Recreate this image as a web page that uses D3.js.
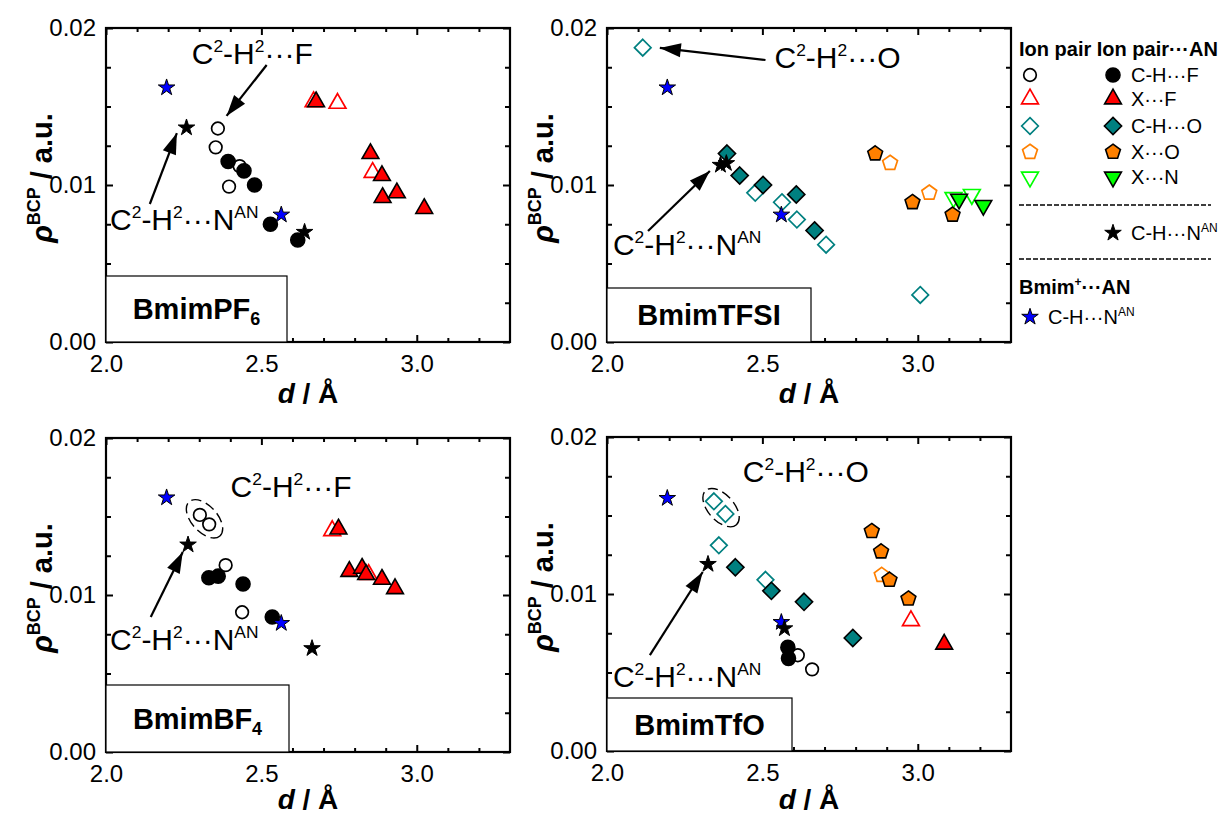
<!DOCTYPE html>
<html><head><meta charset="utf-8">
<script src="https://cdn.jsdelivr.net/npm/d3@7"></script>
<style>
body{margin:0;background:#fff;}
svg{display:block;}
text{font-family:"Liberation Sans",Arial,Helvetica,sans-serif;fill:#000;}
</style>
</head><body>
<svg id="chart" width="1227" height="816"></svg>
<script>
// ---------------- DATA ----------------
const xDomain = [2.0, 3.3];
const yDomain = [0.0, 0.02];
const xTickLabels = [2.0, 2.5, 3.0];
const yTickLabels = [0.00, 0.01, 0.02];
const xMinorTicks = [2.1, 2.2, 2.3, 2.4, 2.6, 2.7, 2.8, 2.9, 3.1, 3.2];
const yMinorTicks = [0.0025, 0.005, 0.0075, 0.0125, 0.015, 0.0175];

// BmimPF6
const pf6_ionCHF   = [[2.360,0.0136],[2.353,0.0124],[2.430,0.0112],[2.396,0.0099]];
const pf6_pairCHF  = [[2.393,0.0115],[2.444,0.0109],[2.478,0.0100],[2.529,0.0075],[2.617,0.0065]];
const pf6_ionXF    = [[2.668,0.0153],[2.745,0.0152],[2.858,0.0108]];
const pf6_pairXF   = [[2.676,0.0153],[2.851,0.0120],[2.888,0.0106],[2.890,0.0092],[2.936,0.0095],[3.024,0.0085]];
const pf6_pairCHN  = [[2.259,0.01365],[2.639,0.0070]];
const pf6_bmimCHN  = [[2.195,0.0162],[2.564,0.0081]];

// BmimTFSI
const tfsi_ionCHO  = [[2.115,0.01875],[2.477,0.0095],[2.563,0.0089],[2.611,0.0078],[2.705,0.0062],[3.008,0.0030]];
const tfsi_pairCHO = [[2.386,0.0120],[2.427,0.0106],[2.502,0.0100],[2.609,0.0094],[2.668,0.0071]];
const tfsi_ionXO   = [[2.911,0.0114],[3.037,0.0095]];
const tfsi_pairXO  = [[2.863,0.0120],[2.983,0.0089],[3.112,0.0081]];
const tfsi_ionXN   = [[3.115,0.0092],[3.174,0.0094]];
const tfsi_pairXN  = [[3.133,0.0091],[3.211,0.0087]];
const tfsi_pairCHN = [[2.365,0.01127],[2.384,0.01138]];
const tfsi_bmimCHN = [[2.194,0.0162],[2.561,0.0081]];

// BmimBF4
const bf4_ionCHF   = [[2.302,0.0151],[2.332,0.0145],[2.385,0.0119],[2.438,0.0089]];
const bf4_pairCHF  = [[2.331,0.0111],[2.361,0.0112],[2.441,0.0107],[2.535,0.0086]];
const bf4_ionXF    = [[2.728,0.0141],[2.845,0.0113]];
const bf4_pairXF   = [[2.748,0.0142],[2.783,0.0115],[2.824,0.0117],[2.837,0.0113],[2.888,0.0110],[2.930,0.0104]];
const bf4_pairCHN  = [[2.264,0.0132],[2.663,0.0066]];
const bf4_bmimCHN  = [[2.195,0.0162],[2.564,0.0082]];

// BmimTfO
const tfo_ionCHO   = [[2.344,0.0159],[2.381,0.0151],[2.360,0.0131],[2.510,0.0109]];
const tfo_pairCHO  = [[2.413,0.0117],[2.529,0.0102],[2.634,0.0095],[2.791,0.0072]];
const tfo_ionXO    = [[2.884,0.0112]];
const tfo_pairXO   = [[2.852,0.0140],[2.882,0.0127],[2.909,0.0109],[2.970,0.0097]];
const tfo_ionXF    = [[2.978,0.0083]];
const tfo_pairXF   = [[3.085,0.0068]];
const tfo_ionCHF   = [[2.614,0.0061],[2.660,0.0052]];
const tfo_pairCHF  = [[2.582,0.0066],[2.584,0.0059]];
const tfo_pairCHN  = [[2.325,0.0119],[2.571,0.0078]];
const tfo_bmimCHN  = [[2.194,0.0161],[2.561,0.0082]];

// annotations (data units): arrows [from, to], text anchors, ellipse centres
const pf6_arrows  = [[[2.517,0.01764],[2.388,0.0144]],[[2.141,0.00879],[2.228,0.01331]]];
const tfsi_arrows = [[[2.510,0.01796],[2.170,0.01873]],[[2.132,0.00707],[2.331,0.01089]]];
const bf4_arrows  = [[[2.144,0.0086],[2.247,0.01274]]];
const tfo_arrows  = [[[2.138,0.00611],[2.308,0.0114]]];
const pf6_notes  = [["F",2.276,0.01771],["N",2.013,0.00713]];
const tfsi_notes = [["O",2.539,0.01745],["N",2.019,0.00554]];
const bf4_notes  = [["F",2.401,0.01624],["N",2.013,0.0065]];
const tfo_notes  = [["O",2.437,0.01713],["N",2.019,0.00408]];
const bf4_ellipse = [2.317,0.01485];
const tfo_ellipse = [2.367,0.01550];

// ---------------- STYLE / LAYOUT ----------------
const RED="#ff0000", TEAL="#008080", ORANGE="#ff8000", GREEN="#00ff00", BLUE="#0000ff";
const styles = {
  ionCHF:{shape:"circle",open:true,color:"#000"},
  pairCHF:{shape:"circleF",open:false,color:"#000"},
  ionXF:{shape:"triUp",open:true,color:RED},
  pairXF:{shape:"triUp",open:false,color:RED},
  ionCHO:{shape:"diamond",open:true,color:TEAL},
  pairCHO:{shape:"diamondF",open:false,color:TEAL},
  ionXO:{shape:"pentagon",open:true,color:ORANGE},
  pairXO:{shape:"pentagon",open:false,color:ORANGE},
  ionXN:{shape:"triDown",open:true,color:GREEN},
  pairXN:{shape:"triDown",open:false,color:GREEN},
  bmimCHN:{shape:"star",open:false,color:BLUE},
  pairCHN:{shape:"star",open:false,color:"#000"}
};
const drawOrder = ["ionCHF","ionXF","ionCHO","ionXO","ionXN","pairCHF","pairXF","pairCHO","pairXO","pairXN","bmimCHN","pairCHN"];

const W = 404, H = 314;
const panels = [
  {left:106, top:28, xTitleDy:61, label:[{t:"BmimPF"},{t:"6",sub:true}], box:[181,66],
   series:{ionCHF:pf6_ionCHF,pairCHF:pf6_pairCHF,ionXF:pf6_ionXF,pairXF:pf6_pairXF,pairCHN:pf6_pairCHN,bmimCHN:pf6_bmimCHN},
   arrows:pf6_arrows, notes:pf6_notes, ellipse:null},
  {left:607, top:28, xTitleDy:61, label:[{t:"BmimTFSI"}], box:[204,54],
   series:{ionCHO:tfsi_ionCHO,pairCHO:tfsi_pairCHO,ionXO:tfsi_ionXO,pairXO:tfsi_pairXO,ionXN:tfsi_ionXN,pairXN:tfsi_pairXN,pairCHN:tfsi_pairCHN,bmimCHN:tfsi_bmimCHN},
   arrows:tfsi_arrows, notes:tfsi_notes, ellipse:null},
  {left:106, top:438, xTitleDy:57, label:[{t:"BmimBF"},{t:"4",sub:true}], box:[183,67],
   series:{ionCHF:bf4_ionCHF,pairCHF:bf4_pairCHF,ionXF:bf4_ionXF,pairXF:bf4_pairXF,pairCHN:bf4_pairCHN,bmimCHN:bf4_bmimCHN},
   arrows:bf4_arrows, notes:bf4_notes, ellipse:bf4_ellipse},
  {left:607, top:437, xTitleDy:58, label:[{t:"BmimTfO"}], box:[185,53],
   series:{ionCHO:tfo_ionCHO,pairCHO:tfo_pairCHO,ionXO:tfo_ionXO,pairXO:tfo_pairXO,ionXF:tfo_ionXF,pairXF:tfo_pairXF,ionCHF:tfo_ionCHF,pairCHF:tfo_pairCHF,pairCHN:tfo_pairCHN,bmimCHN:tfo_bmimCHN},
   arrows:tfo_arrows, notes:tfo_notes, ellipse:tfo_ellipse}
];

function shapePath(s){
  switch(s){
    case "circle": return d3.symbol(d3.symbolCircle, Math.PI*6.3*6.3)();
    case "circleF": return d3.symbol(d3.symbolCircle, Math.PI*7*7)();
    case "triUp": return "M0,-9.8L8.4,4.9L-8.4,4.9Z";
    case "triDown": return "M0,9.8L8.4,-4.9L-8.4,-4.9Z";
    case "diamond": return "M0,-8.3L8.3,0L0,8.3L-8.3,0Z";
    case "diamondF": return "M0,-8.6L8.6,0L0,8.6L-8.6,0Z";
    case "pentagon": {
      const R=7.8, pts=[];
      for(let i=0;i<5;i++){const a=-Math.PI/2+i*2*Math.PI/5; pts.push([R*Math.cos(a),R*Math.sin(a)]);}
      return "M"+pts.map(p=>p[0].toFixed(2)+","+p[1].toFixed(2)).join("L")+"Z";
    }
    case "star": return d3.symbol(d3.symbolStar, 85)();
  }
}
function styleMarker(sel, st){
  if(st.open){ sel.attr("fill","#fff").attr("fill-opacity",0).attr("stroke",st.color).attr("stroke-width",1.7); }
  else { sel.attr("fill",st.color).attr("stroke","#000").attr("stroke-width", st.shape==="star"?1:1.6); }
}

function rich(textSel, parts, fs){
  let shift = 0;
  parts.forEach(p=>{
    const ts = textSel.append("tspan").text(p.t);
    let target = 0, size = fs;
    if(p.sup){ target = -(p.k||0.4)*fs; size = (p.s||0.58)*fs; }
    else if(p.sub){ target = 0.22*fs; size = 0.62*fs; }
    ts.attr("dy", (target-shift).toFixed(2)).attr("font-size", size.toFixed(2));
    if(p.italic) ts.attr("font-style","italic");
    shift = target;
  });
}

const svg = d3.select("#chart");
const defs = svg.append("defs");
defs.append("marker").attr("id","ah").attr("markerUnits","userSpaceOnUse")
  .attr("viewBox","-22 -8 24 16").attr("refX",0).attr("refY",0)
  .attr("markerWidth",24).attr("markerHeight",16).attr("orient","auto")
  .append("path").attr("d","M0,0L-21,-7L-21,7Z").attr("fill","#000");

const noteParts = {
  F:[{t:"C"},{t:"2",sup:true},{t:"-H"},{t:"2",sup:true},{t:"\u00B7\u00B7\u00B7F"}],
  O:[{t:"C"},{t:"2",sup:true},{t:"-H"},{t:"2",sup:true},{t:"\u00B7\u00B7\u00B7O"}],
  N:[{t:"C"},{t:"2",sup:true},{t:"-H"},{t:"2",sup:true},{t:"\u00B7\u00B7\u00B7N"},{t:"AN",sup:true}]
};

panels.forEach(p=>{
  const x = d3.scaleLinear().domain(xDomain).range([0,W]);
  const y = d3.scaleLinear().domain(yDomain).range([H,0]);
  const g = svg.append("g").attr("transform",`translate(${p.left},${p.top})`);

  // ticks (inward on all four sides)
  const axes = [
    [d3.axisBottom(x), `translate(0,${H})`, xTickLabels, xMinorTicks, true],
    [d3.axisTop(x), `translate(0,0)`, xTickLabels, xMinorTicks, false],
    [d3.axisLeft(y), `translate(0,0)`, yTickLabels, yMinorTicks, true],
    [d3.axisRight(y), `translate(${W},0)`, yTickLabels, yMinorTicks, false]
  ];
  axes.forEach(([ax, tr, majors, minors, labelled], i)=>{
    const isX = i<2;
    const fmt = isX ? d3.format(".1f") : d3.format(".2f");
    const ma = g.append("g").attr("transform",tr)
      .call(ax.tickValues(majors).tickSize(-7).tickPadding(isX?13:10).tickFormat(labelled?fmt:""));
    ma.select(".domain").remove();
    ma.selectAll("line").attr("stroke","#000").attr("stroke-width",2);
    ma.selectAll("text").attr("font-size",24).attr("font-family",'"Liberation Sans",Arial,sans-serif').attr("fill","#000");
    const mi = g.append("g").attr("transform",tr)
      .call(ax.tickValues(minors).tickSize(isX?-4:-5).tickFormat(""));
    mi.select(".domain").remove();
    mi.selectAll("line").attr("stroke","#000").attr("stroke-width",2);
  });
  g.append("rect").attr("width",W).attr("height",H).attr("fill","none").attr("stroke","#000").attr("stroke-width",2.2);

  // axis titles
  const xt = g.append("text").attr("x",W/2).attr("y",H+p.xTitleDy).attr("text-anchor","middle")
    .attr("font-weight","bold").attr("font-size",28);
  rich(xt,[{t:"d",italic:true},{t:" / \u00C5"}],28);
  const yt = g.append("text").attr("transform",`translate(-54,${H/2-7}) rotate(-90)`)
    .attr("text-anchor","middle").attr("font-weight","bold").attr("font-size",29);
  rich(yt,[{t:"\u03C1",italic:true},{t:"BCP",sup:true,k:0.42,s:0.62},{t:" / a.u."}],29);

  // panel label box
  g.append("rect").attr("x",0).attr("y",H-p.box[1]).attr("width",p.box[0]).attr("height",p.box[1])
    .attr("fill","#fff").attr("stroke","#000").attr("stroke-width",1.2);
  const lt = g.append("text").attr("x",p.box[0]/2).attr("y",H-p.box[1]/2+10)
    .attr("text-anchor","middle").attr("font-weight","bold").attr("font-size",29);
  rich(lt,p.label,29);

  // markers
  drawOrder.forEach(k=>{
    const data = p.series[k];
    if(!data) return;
    const st = styles[k];
    g.append("g").selectAll("path").data(data).join("path")
      .attr("d", shapePath(st.shape))
      .attr("transform", d=>`translate(${x(d[0])},${y(d[1])})`)
      .call(s=>styleMarker(s,st));
  });

  // ellipse
  if(p.ellipse){
    g.append("ellipse").attr("cx",0).attr("cy",0).attr("rx",23).attr("ry",13)
      .attr("transform",`translate(${x(p.ellipse[0])},${y(p.ellipse[1])}) rotate(48)`)
      .attr("fill","none").attr("stroke","#000").attr("stroke-width",1.4).attr("stroke-dasharray","10,5");
  }
  // arrows
  p.arrows.forEach(a=>{
    g.append("line").attr("x1",x(a[0][0])).attr("y1",y(a[0][1])).attr("x2",x(a[1][0])).attr("y2",y(a[1][1]))
      .attr("stroke","#000").attr("stroke-width",2.2).attr("marker-end","url(#ah)");
  });
  // notes
  p.notes.forEach(n=>{
    const t = g.append("text").attr("x",x(n[1])).attr("y",y(n[2])).attr("font-size",30);
    rich(t, noteParts[n[0]], 30);
  });
});

// ---------------- LEGEND ----------------
const lg = svg.append("g");
const legRows = [
  {ion:"ionCHF", pair:"pairCHF", label:[{t:"C-H\u00B7\u00B7\u00B7F"}], y:75},
  {ion:"ionXF", pair:"pairXF", label:[{t:"X\u00B7\u00B7\u00B7F"}], y:99},
  {ion:"ionCHO", pair:"pairCHO", label:[{t:"C-H\u00B7\u00B7\u00B7O"}], y:126},
  {ion:"ionXO", pair:"pairXO", label:[{t:"X\u00B7\u00B7\u00B7O"}], y:152},
  {ion:"ionXN", pair:"pairXN", label:[{t:"X\u00B7\u00B7\u00B7N"}], y:177}
];
lg.append("text").attr("x",1019).attr("y",56).attr("font-weight","bold").attr("font-size",20)
  .text("Ion pair Ion pair\u00B7\u00B7\u00B7AN");
legRows.forEach(r=>{
  [[r.ion,1030],[r.pair,1113]].forEach(([k,cx])=>{
    const st = styles[k];
    lg.append("path").attr("d",shapePath(st.shape)).attr("transform",`translate(${cx},${r.y})`).call(s=>styleMarker(s,st));
  });
  const t = lg.append("text").attr("x",1131).attr("y",r.y+7).attr("font-size",20);
  rich(t,r.label,20);
});
[205,259].forEach(yy=>{
  lg.append("line").attr("x1",1019).attr("x2",1211).attr("y1",yy).attr("y2",yy)
    .attr("stroke","#000").attr("stroke-width",1.6).attr("stroke-dasharray","5,2");
});
lg.append("path").attr("d",shapePath("star")).attr("transform","translate(1113,233)").call(s=>styleMarker(s,styles.pairCHN));
rich(lg.append("text").attr("x",1131).attr("y",240).attr("font-size",20),
  [{t:"C-H\u00B7\u00B7\u00B7N"},{t:"AN",sup:true,k:0.4,s:0.6}],20);
rich(lg.append("text").attr("x",1019).attr("y",294).attr("font-weight","bold").attr("font-size",20),
  [{t:"Bmim"},{t:"+",sup:true,k:0.4,s:0.6},{t:"\u00B7\u00B7\u00B7AN"}],20);
lg.append("path").attr("d",shapePath("star")).attr("transform","translate(1030,317)").call(s=>styleMarker(s,styles.bmimCHN));
rich(lg.append("text").attr("x",1048).attr("y",324).attr("font-size",20),
  [{t:"C-H\u00B7\u00B7\u00B7N"},{t:"AN",sup:true,k:0.4,s:0.6}],20);
</script>
</body></html>
